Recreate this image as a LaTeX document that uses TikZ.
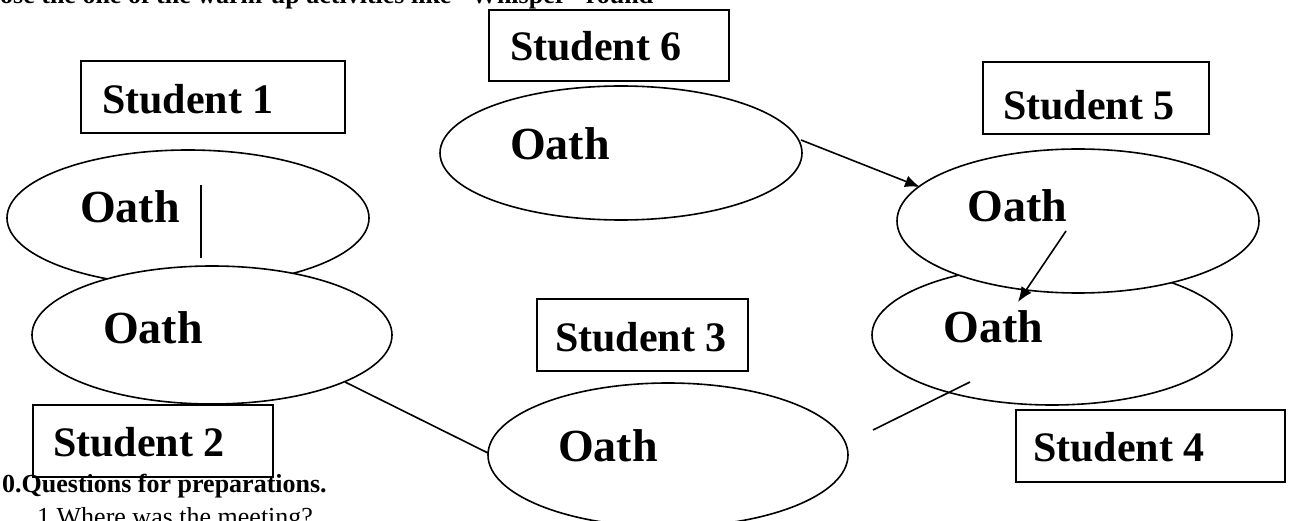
\documentclass[tikz,border=0pt]{standalone}
\usepackage{fontspec}
\setmainfont{Liberation Serif}
\usetikzlibrary{shapes.geometric,arrows.meta}
\begin{document}
\begin{tikzpicture}[x=1pt,y=-1pt,
  oval/.style={draw,ellipse,fill=white,line width=1.6pt,inner sep=0pt},
  namebox/.style={draw,rectangle,line width=1.4pt,inner sep=0pt},
  namelbl/.style={anchor=base west,inner sep=0pt,font=\fontsize{42}{48}\selectfont\bfseries},
  oathlbl/.style={anchor=base west,inner sep=0pt,font=\fontsize{46}{52}\selectfont\bfseries},
  link/.style={line width=1.6pt},
  pass/.style={link,-{Latex[length=15pt,width=12pt]}},
  bodytext/.style={anchor=base west,inner sep=0pt,font=\fontsize{26}{31}\selectfont}
]
\useasboundingbox (0,0) rectangle (1306,521);

% running text around the exercise
\node[bodytext,font=\fontsize{26}{31}\selectfont\bfseries] (intro) at (0,4)
  {ose the one of the warm-up activities like “Whisper” round};
\node[bodytext,font=\fontsize{26}{31}\selectfont\bfseries] (qhead) at (2,492)
  {0.Questions for preparations.};
\node[bodytext] (q1) at (37,525) {1 Where was the meeting?};

% name boxes
\node[namebox,minimum width=264pt,minimum height=72pt] (b1) at (213,97) {};
\node[namelbl] (s1) at (102,114) {Student 1};
\node[namebox,minimum width=240pt,minimum height=71pt] (b6) at (609,45.5) {};
\node[namelbl] (s6) at (510,61) {Student 6};
\node[namebox,minimum width=226pt,minimum height=72pt] (b5) at (1096,98) {};
\node[namelbl] (s5) at (1003,120) {Student 5};
\node[namebox,minimum width=211pt,minimum height=72pt] (b3) at (642.5,335) {};
\node[namelbl] (s3) at (555,351) {Student 3};
\node[namebox,minimum width=240pt,minimum height=72pt] (b2) at (153,441) {};
\node[namelbl] (s2) at (53,456) {Student 2};
\node[namebox,minimum width=269pt,minimum height=72pt] (b4) at (1150.5,446) {};
\node[namelbl] (s4) at (1033,461) {Student 4};

% the oaths passed along the circle
\node[oval,minimum width=362pt,minimum height=136pt] (e1) at (188,218) {};
\node[oathlbl] (o1) at (80,223) {Oath};
\node[oval,minimum width=360pt,minimum height=138pt] (e2) at (212,335) {};
\node[oathlbl] (o2) at (103,343) {Oath};
\node[oval,minimum width=362pt,minimum height=134pt] (e6) at (621,153) {};
\node[oathlbl] (o6) at (510,160) {Oath};
\node[oval,minimum width=360pt,minimum height=140pt] (e4) at (1052,335) {};
\node[oathlbl] (o4) at (943,342) {Oath};
\node[oval,minimum width=362pt,minimum height=144pt] (e5) at (1078,221) {};
\node[oathlbl] (o5) at (967,222) {Oath};
\node[oval,minimum width=360pt,minimum height=144pt] (e3) at (668,455) {};
\node[oathlbl] (o3) at (558,461) {Oath};

% connector end points
\coordinate (v1) at (201,185);
\coordinate (v2) at (201,258);
\coordinate (l1) at (345,382);
\coordinate (l2) at (488,453);
\coordinate (p1) at (801,140);
\coordinate (p2) at (920,187);
\coordinate (q1a) at (1066,231);
\coordinate (q2a) at (1018,302);
\coordinate (r1) at (873,430);
\coordinate (r2) at (970,382);

\draw[link] (v1) -- (v2);
\draw[link] (l1) -- (l2);
\draw[pass] (p1) -- (p2);
\draw[pass] (q1a) -- (q2a);
\draw[link] (r1) -- (r2);
\end{tikzpicture}
\end{document}
